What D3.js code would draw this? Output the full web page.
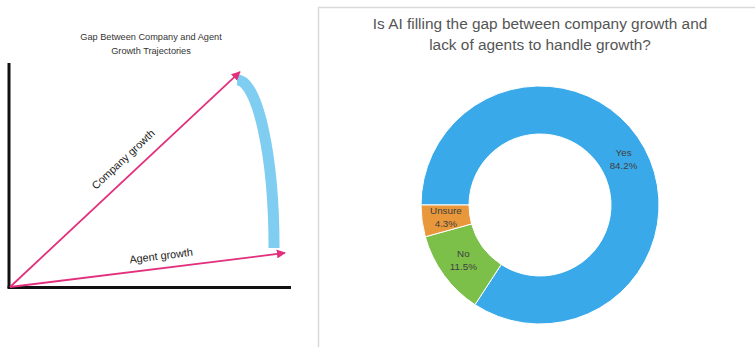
<!DOCTYPE html>
<html><head><meta charset="utf-8">
<script src="https://cdn.jsdelivr.net/npm/d3@7"></script>
<style>body{margin:0;background:#fff;}svg{display:block;font-family:"Liberation Sans",Arial,sans-serif;}</style>
</head><body>
<svg id="c" width="755" height="347"></svg>
<script>
// Left diagram data (conceptual, in percent of axis span)
const arrowNames = ["Company growth", "Agent growth"];
const arrowEndX = [82.1, 98.2];
const arrowEndY = [96.0, 15.2];
const gapTop = [81.1, 92.4];     // top end of gap arc
const gapBottom = [94.3, 17.4];  // bottom end of gap arc
const leftTitle = ["Gap Between Company and Agent", "Growth Trajectories"];

// Donut data
const categories = ["Yes", "No", "Unsure"];
const values = [84.2, 11.5, 4.3];
const colors = ["#3aa9e9", "#7cc04a", "#e8973a"];
const rightTitle = ["Is AI filling the gap between company growth and", "lack of agents to handle growth?"];

const svg = d3.select("#c");

// ---------- Left panel ----------
const x = d3.scaleLinear().domain([0, 100]).range([10, 290]);
const y = d3.scaleLinear().domain([0, 100]).range([287, 63]);

svg.append("g").selectAll("text").data(leftTitle).join("text")
  .attr("x", 151).attr("y", (d, i) => 38 + i * 13.5)
  .attr("text-anchor", "middle").attr("dominant-baseline", "middle")
  .attr("font-size", 9.2).attr("fill", "#333").text(d => d);

// axes
svg.append("line").attr("x1", x(0) - 1).attr("y1", y(0) + 1).attr("x2", x(0) - 1).attr("y2", y(100))
  .attr("stroke", "#111").attr("stroke-width", 3);
svg.append("line").attr("x1", x(0) - 2.5).attr("y1", y(0) + 0.5).attr("x2", x(100) + 1).attr("y2", y(0) + 0.5)
  .attr("stroke", "#111").attr("stroke-width", 3);

// gap arc (quarter ellipse)
const cx = x(gapTop[0]), cy = y(gapBottom[1]);
const rx = x(gapBottom[0]) - cx, ry = cy - y(gapTop[1]);
svg.append("path")
  .attr("d", `M${x(gapTop[0])},${y(gapTop[1])} A${rx},${ry} 0 0 1 ${x(gapBottom[0])},${y(gapBottom[1])}`)
  .attr("fill", "none").attr("stroke", "#7fcdf1").attr("stroke-width", 11);

// arrowhead marker
const pink = "#e2307c";
svg.append("defs").append("marker").attr("id", "ah")
  .attr("viewBox", "0 0 10 10").attr("refX", 9).attr("refY", 5)
  .attr("markerWidth", 5).attr("markerHeight", 5).attr("markerUnits", "strokeWidth")
  .attr("orient", "auto")
  .append("path").attr("d", "M0,0 L10,5 L0,10 Z").attr("fill", pink);

svg.append("g").selectAll("line").data(arrowNames).join("line")
  .attr("x1", x(0)).attr("y1", y(0))
  .attr("x2", (d, i) => x(arrowEndX[i])).attr("y2", (d, i) => y(arrowEndY[i]))
  .attr("stroke", pink).attr("stroke-width", 1.8).attr("marker-end", "url(#ah)");

// arrow labels
const labelT = [0.54, 0.555];
const labelOff = [15, 11.5];
svg.append("g").selectAll("text").data(arrowNames).join("text")
  .each(function (d, i) {
    const x1 = x(0), y1 = y(0), x2 = x(arrowEndX[i]), y2 = y(arrowEndY[i]);
    const ang = Math.atan2(y2 - y1, x2 - x1);
    const px = x1 + (x2 - x1) * labelT[i] + Math.sin(ang) * labelOff[i];
    const py = y1 + (y2 - y1) * labelT[i] - Math.cos(ang) * labelOff[i];
    d3.select(this).attr("transform", `translate(${px},${py}) rotate(${ang * 180 / Math.PI})`);
  })
  .attr("text-anchor", "middle").attr("dominant-baseline", "middle")
  .attr("font-size", 10.8).attr("fill", "#222").text(d => d);

// ---------- Right panel ----------
svg.append("rect").attr("x", 318.5).attr("y", 7.5).attr("width", 600).attr("height", 500)
  .attr("fill", "#fff").attr("stroke", "#d9d9d9").attr("stroke-width", 1.5);

svg.append("g").selectAll("text").data(rightTitle).join("text")
  .attr("x", 540).attr("y", (d, i) => 25 + i * 21)
  .attr("text-anchor", "middle").attr("dominant-baseline", "middle")
  .attr("font-size", 15.4).attr("fill", "#555").text(d => d);

const pie = d3.pie().sort(null).value(d => d).startAngle(-Math.PI / 2).endAngle(1.5 * Math.PI);
const arcs = pie(values);
const arc = d3.arc().innerRadius(71).outerRadius(119);
const labelArc = d3.arc().innerRadius(95).outerRadius(95);
const g = svg.append("g").attr("transform", "translate(540,205)");
g.selectAll("path").data(arcs).join("path")
  .attr("d", arc).attr("fill", (d, i) => colors[i])
  .attr("stroke", "#fff").attr("stroke-width", 1);
const lbl = g.selectAll("g.l").data(arcs).join("g").attr("class", "l")
  .attr("transform", d => `translate(${labelArc.centroid(d)})`);
lbl.append("text").attr("y", -6.5).attr("text-anchor", "middle").attr("dominant-baseline", "middle")
  .attr("font-size", 9.8).attr("fill", "#404040").text((d, i) => categories[i]);
lbl.append("text").attr("y", 6.5).attr("text-anchor", "middle").attr("dominant-baseline", "middle")
  .attr("font-size", 9.8).attr("fill", "#404040").text(d => d.data.toFixed(1) + "%");
</script>
</body></html>
